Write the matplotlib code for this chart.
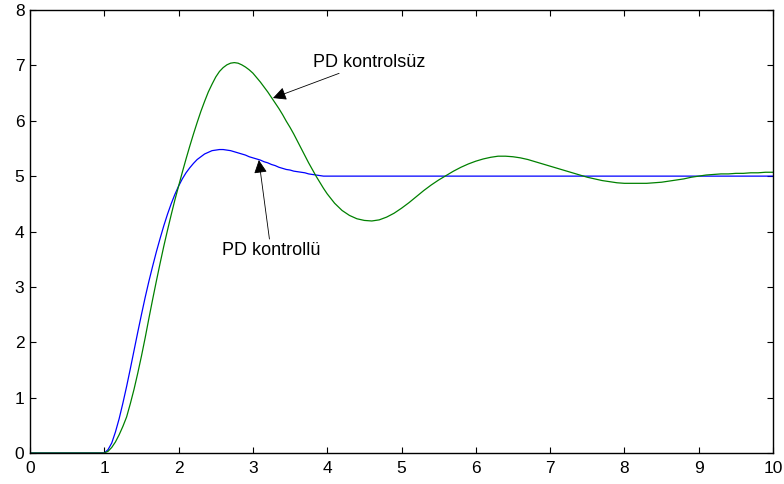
import numpy as np
import matplotlib.pyplot as plt

# === DATA ===
# time grid: 0.05 steps where the curves move fast, 0.1 afterwards
t = [0.0, 1.0] + [round(1.0 + 0.05 * i, 2) for i in range(1, 61)] \
    + [round(4.0 + 0.1 * i, 1) for i in range(1, 61)]

# PD kontrolsüz (green)
y_unctrl = [0.0, 0.0] + [
    0.03, 0.10, 0.20, 0.33, 0.48, 0.65, 0.89, 1.15, 1.44, 1.75,
    2.08, 2.43, 2.77, 3.10, 3.42, 3.73, 4.02, 4.30, 4.57, 4.82,
    5.07, 5.31, 5.54, 5.76, 5.97, 6.17, 6.35, 6.52, 6.66, 6.79,
    6.89, 6.96, 7.01, 7.04, 7.05, 7.04, 7.01, 6.97, 6.92, 6.86,
    6.78, 6.70, 6.61, 6.52, 6.42, 6.32, 6.22, 6.11, 5.99, 5.88,
    5.76, 5.63, 5.50, 5.37, 5.24, 5.12, 5.00, 4.89, 4.78, 4.68,
] + [
    4.51, 4.38, 4.29, 4.23, 4.20, 4.19, 4.21, 4.26, 4.33, 4.42,
    4.52, 4.63, 4.74, 4.84, 4.93, 5.01, 5.09, 5.16, 5.22, 5.27,
    5.31, 5.34, 5.36, 5.36, 5.35, 5.33, 5.30, 5.26, 5.22, 5.18,
    5.14, 5.10, 5.06, 5.02, 4.98, 4.95, 4.92, 4.90, 4.88, 4.87,
    4.87, 4.87, 4.87, 4.88, 4.89, 4.91, 4.93, 4.95, 4.98, 5.00,
    5.02, 5.03, 5.04, 5.04, 5.05, 5.05, 5.06, 5.06, 5.07, 5.07,
]

# PD kontrollü (blue)
y_ctrl = [0.0, 0.0] + [
    0.06, 0.18, 0.38, 0.62, 0.90, 1.20, 1.52, 1.85, 2.18, 2.50,
    2.81, 3.10, 3.37, 3.63, 3.87, 4.10, 4.31, 4.50, 4.67, 4.82,
    4.95, 5.06, 5.15, 5.23, 5.30, 5.35, 5.40, 5.43, 5.46, 5.47,
    5.48, 5.48, 5.47, 5.46, 5.44, 5.42, 5.40, 5.38, 5.35, 5.33,
    5.31, 5.29, 5.26, 5.24, 5.21, 5.19, 5.16, 5.14, 5.12, 5.11,
    5.09, 5.08, 5.07, 5.06, 5.04, 5.03, 5.02, 5.01, 5.00, 5.00,
] + [5.0] * 60

assert len(t) == len(y_unctrl) == len(y_ctrl)

xticks = list(range(0, 11))
yticks = list(range(0, 9))

# === PLOT ===
plt.rcParams['font.family'] = ['Liberation Sans', 'DejaVu Sans']

fig = plt.figure(figsize=(7.84, 4.84), dpi=100)
ax = fig.add_axes([30 / 784, 31 / 484, 743 / 784, 443 / 484])

ax.plot(t, y_ctrl, color='#0000ff', lw=0.9)
ax.plot(t, y_unctrl, color='#008000', lw=0.9)

ax.set_xlim(0, 10)
ax.set_ylim(0, 8)
ax.set_xticks(xticks)
ax.set_yticks(yticks)
ax.tick_params(direction='in', top=True, right=True, length=4, width=0.8,
               labelsize=12.5)
ax.tick_params(axis='x', pad=6)
ax.tick_params(axis='y', pad=4)
for s in ax.spines.values():
    s.set_linewidth(1.0)

arrow = dict(arrowstyle='-|>', color='black', lw=0.6, mutation_scale=20,
             shrinkA=0, shrinkB=0)
ax.annotate('PD kontrolsüz', xy=(3.27, 6.41), xytext=(3.81, 7.06),
            fontsize=13, va='center', ha='left', arrowprops=arrow)
ax.annotate('PD kontrollü', xy=(3.08, 5.29), xytext=(2.58, 3.66),
            fontsize=13, va='center', ha='left', arrowprops=arrow)

fig.savefig('out.png', dpi=100)
